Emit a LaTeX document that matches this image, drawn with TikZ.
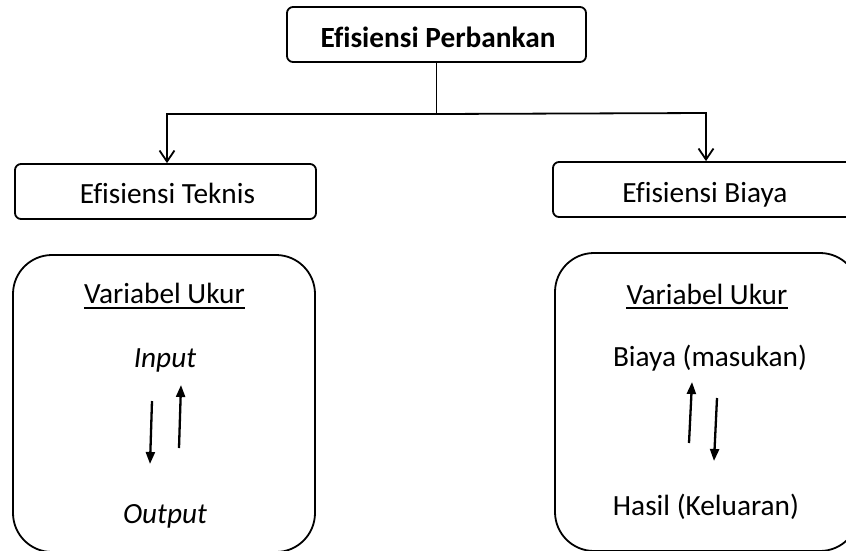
\documentclass[tikz,border=0pt]{standalone}
\usepackage{fontspec}
\setmainfont{Carlito}[Ligatures={NoCommon}]
\usetikzlibrary{arrows.meta}
\begin{document}
\begin{tikzpicture}[x=1pt,y=-1pt,
  box/.style={draw, line width=1.8pt, rounded corners=6pt, inner sep=0pt},
  bigbox/.style={draw, line width=1.8pt, rounded corners=39pt, inner sep=0pt},
  txt/.style={anchor=base, inner sep=0pt, font=\fontsize{29.3}{35}\selectfont},
  conn/.style={line width=1.8pt, -{Straight Barb[length=11pt,width=15pt,line width=1.8pt]}},
  inarrow/.style={line width=2.3pt, -{Triangle[length=12pt,width=9pt]}},
  uline/.style={line width=1.6pt}
]
\useasboundingbox (0,0) rectangle (846,550);
\clip (0,0) rectangle (846,550);

% boxes
\node[box, minimum width=299pt, minimum height=55pt] (top) at (436.5,34.5) {};
\node[box, minimum width=301pt, minimum height=55pt] (tek) at (165.5,191.5) {};
\node[box, minimum width=304pt, minimum height=55pt] (bia) at (705,189.5) {};
\node[bigbox, minimum width=302pt, minimum height=297pt] (lowL) at (164,403.5) {};
\node[bigbox, minimum width=304pt, minimum height=298pt] (lowR) at (707,402) {};

% texts
\node[txt, font=\fontsize{29.3}{35}\selectfont\bfseries] (tTop) at (438,47) {Efisiensi Perbankan};
\node[txt] (tTek) at (167.5,203) {Efisiensi Teknis};
\node[txt] (tBia) at (705,202) {Efisiensi Biaya};
\node[txt] (vuL) at (164.5,303) {Variabel Ukur};
\node[txt] (inp) at (165,367) {\itshape Input};
\node[txt] (outp) at (165,523) {\itshape Output};
\node[txt] (vuR) at (707,304) {Variabel Ukur};
\node[txt] (bm) at (710,366) {Biaya (masukan)};
\node[txt] (hk) at (706,515) {Hasil (Keluaran)};

% underlines
\draw[uline] ([yshift=-5pt]vuL.base west) -- ([yshift=-5pt]vuL.base east);
\draw[uline] ([yshift=-4pt]vuR.base west) -- ([yshift=-4pt]vuR.base east);

% tree connectors
\coordinate (J) at (top.south |- 0,114);
\coordinate (JL) at (167,114);
\coordinate (JR) at (706,113);
\draw[line width=1.8pt] (top.south) -- (J);
\draw[conn] (J) -- (JL) -- (JL |- tek.north);
\draw[conn] (J) -- (JR) -- (JR |- bia.north);

% inner arrows left
\coordinate (aL1s) at (152,401);
\coordinate (aL1e) at (150,464);
\coordinate (aL2s) at (179,448);
\coordinate (aL2e) at (181,385);
\draw[inarrow] (aL1s) -- (aL1e);
\draw[inarrow] (aL2s) -- (aL2e);

% inner arrows right
\coordinate (aR1s) at (689,443);
\coordinate (aR1e) at (692,382);
\coordinate (aR2s) at (717,398);
\coordinate (aR2e) at (714,461);
\draw[inarrow] (aR1s) -- (aR1e);
\draw[inarrow] (aR2s) -- (aR2e);
\end{tikzpicture}
\end{document}
